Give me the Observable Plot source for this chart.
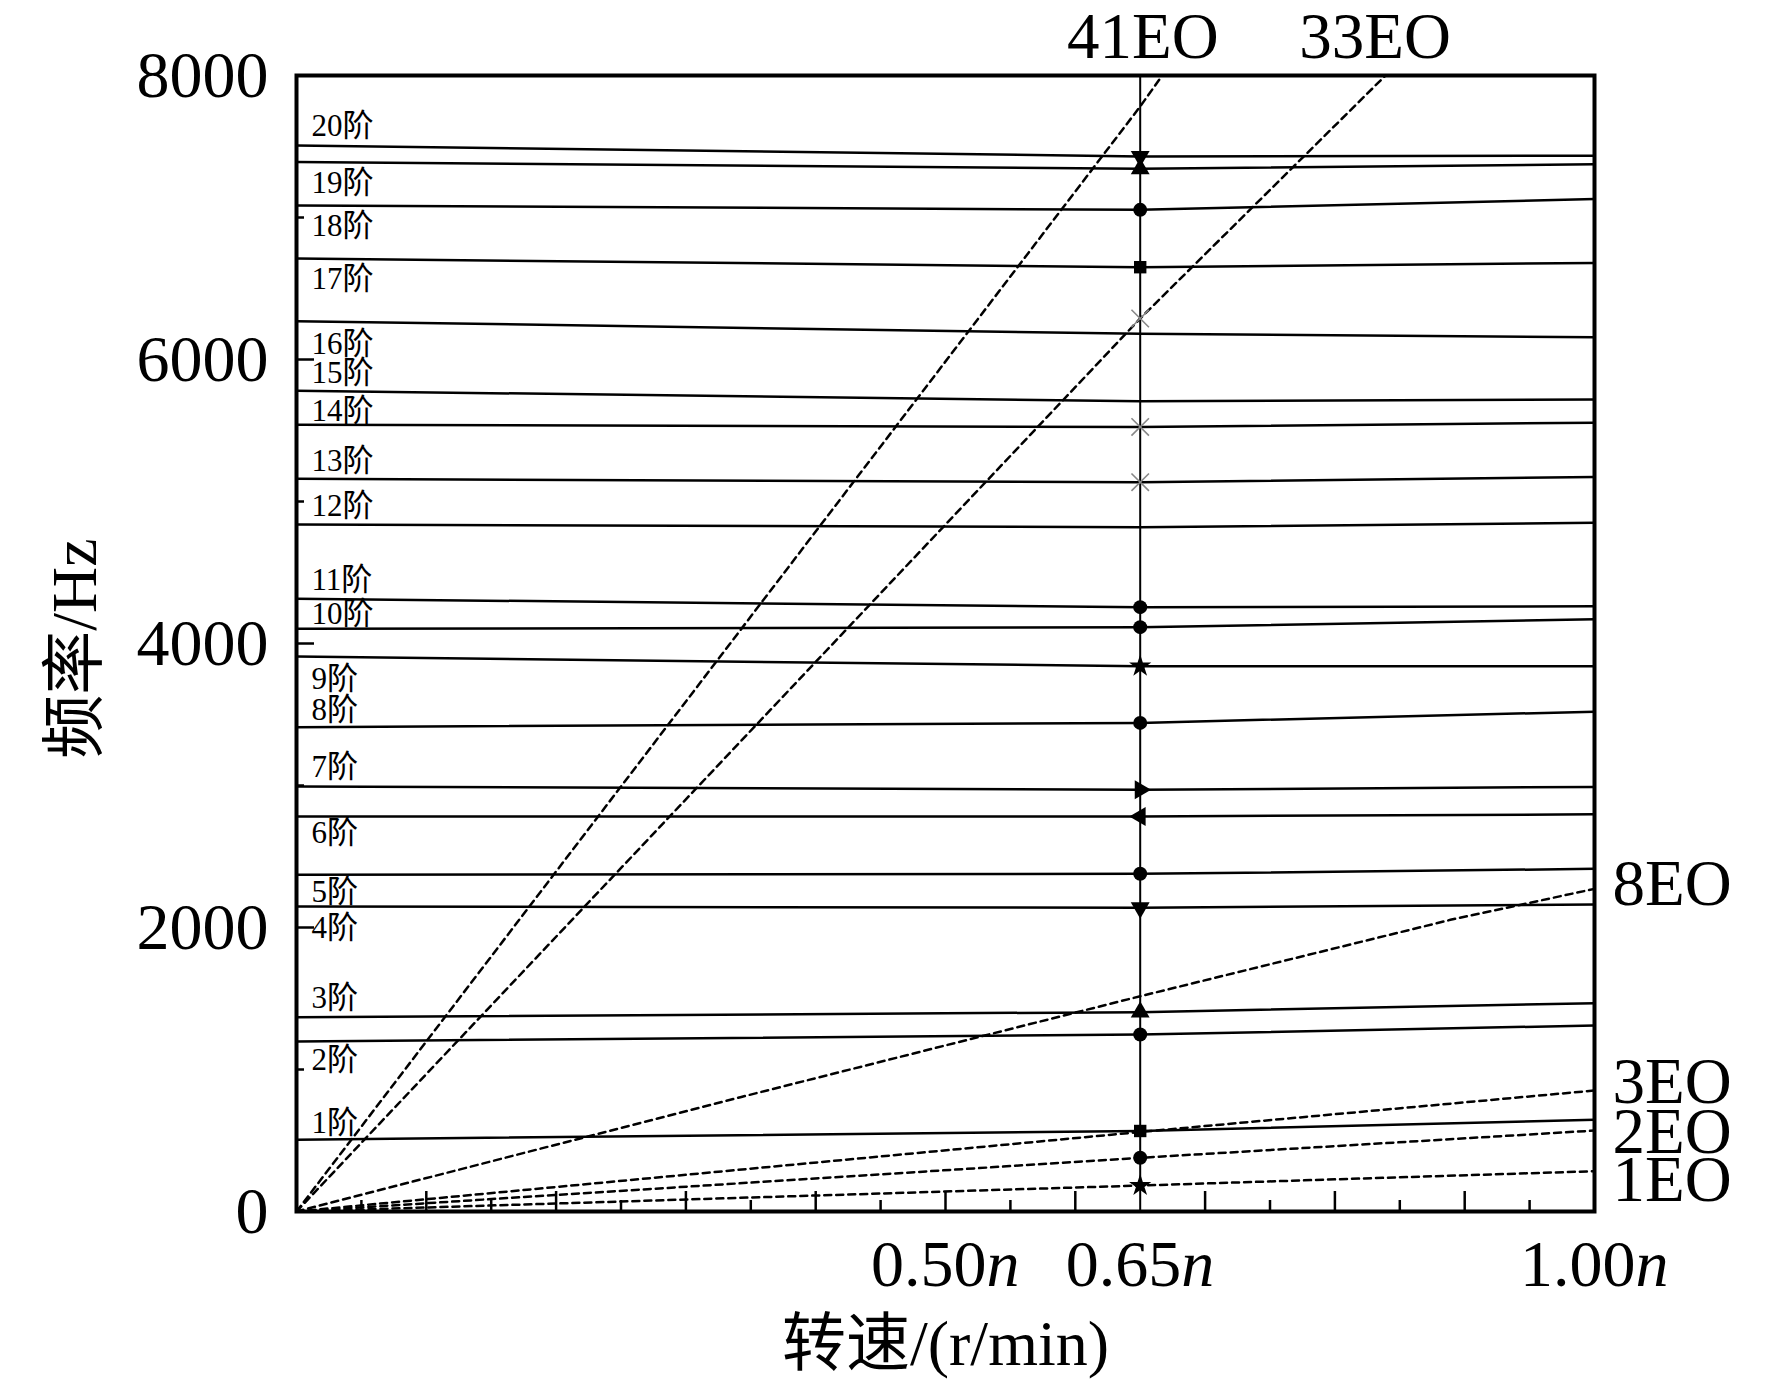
<!DOCTYPE html>
<html><head><meta charset="utf-8">
<script src="https://cdn.jsdelivr.net/npm/d3@7"></script>
<script src="https://cdn.jsdelivr.net/npm/@observablehq/plot@0.6"></script>
<style>body{margin:0;background:#fff} svg{display:block}</style>
</head><body><div id="chart"></div>
<script>
// ---- data ----
const modeNames = ["1阶","2阶","3阶","4阶","5阶","6阶","7阶","8阶","9阶","10阶","11阶","12阶","13阶","14阶","15阶","16阶","17阶","18阶","19阶","20阶"];
const modeSpeed = [0, 0.65, 1];
const modeFreqLeft  = [505, 1197, 1368, 2148, 2371, 2782, 2993, 3411, 3908, 4103, 4315, 4838, 5160, 5540, 5780, 6270, 6711, 7085, 7390, 7507];
const modeFreqMid   = [567, 1246, 1404, 2139, 2378, 2782, 2970, 3441, 3840, 4115, 4256, 4819, 5136, 5525, 5706, 6181, 6650, 7054, 7343, 7430];
const modeFreqRight = [646, 1310, 1467, 2162, 2413, 2797, 2990, 3520, 3840, 4170, 4262, 4850, 5172, 5555, 5718, 6157, 6680, 7130, 7375, 7435];
const modeLabelFreq = [556, 993, 1430, 1923, 2183, 2592, 3063, 3458, 3683, 4134, 4380, 4901, 5213, 5570, 5831, 6042, 6500, 6873, 7176, 7577];

const eoNames = ["1EO","2EO","3EO","8EO","33EO","41EO"];
const eoSpeed = [[0,0.65,1],[0,0.65,1],[0,0.65,1],[0,0.342,0.65,0.889,1],[0,0.65,0.839],[0,0.65,0.667]];
const eoFreq  = [[0,183,284],[0,378,570],[0,560,852],[0,805,1516,2054,2272],[0,6289,8000],[0,7782,8000]];

const topLabelNames = ["41EO","33EO"];
const topLabelSpeed = [0.652, 0.831];
const rightLabelNames = ["8EO","3EO","2EO","1EO"];
const rightLabelFreq = [2155, 761, 415, 77];

const speedMark = [0.65];
const markerFreq   = [7430, 7343, 7054, 6650, 4256, 4115, 3840, 3441, 2970, 2782, 2378, 2139, 1404, 1246, 567, 378, 183];
const markerSymbol = ["triangle","triangle","circle","square","circle","circle","star","circle","triangle","triangle","circle","triangle","triangle","circle","square","circle","star"];
const markerRotate = [180, 0, 0, 0, 0, 0, 0, 0, 90, -90, 0, 180, 0, 0, 0, 0, 0];
const crossFreq = [6289, 5525, 5136];

const yTicks = [0, 2000, 4000, 6000, 8000];
const yMinorTicks = [1000, 3000, 5000, 7000];
const xMajorTicks = [0.1, 0.2, 0.3, 0.4, 0.5, 0.6, 0.7, 0.8, 0.9];
const xMinorTicks = [0.05, 0.15, 0.25, 0.35, 0.45, 0.55, 0.75, 0.85, 0.95];
const xLabelTicks = [0.5, 0.65, 1.0];
const xLabelNums = ["0.50", "0.65", "1.00"];
const xTitle = "转速/(r/min)";
const yTitle = "频率/Hz";

// ---- tables ----
const modeCols = [modeFreqLeft, modeFreqMid, modeFreqRight];
const modeRows = modeNames.flatMap((m, i) => modeSpeed.map((s, j) => ({mode: m, speed: s, freq: modeCols[j][i]})));
const modeLabels = modeNames.map((m, i) => ({mode: m, freq: modeLabelFreq[i]}));
const eoRows = eoNames.flatMap((n, i) => eoSpeed[i].map((s, j) => ({eo: n, speed: s, freq: eoFreq[i][j]})));
const markerRows = markerFreq.map((f, i) => ({speed: speedMark[0], freq: f, symbol: markerSymbol[i], rotate: markerRotate[i]}));
const crossRows = crossFreq.map(f => ({speed: speedMark[0], freq: f}));
const topLabels = topLabelNames.map((n, i) => ({name: n, speed: topLabelSpeed[i]}));
const rightLabels = rightLabelNames.map((n, i) => ({name: n, freq: rightLabelFreq[i]}));

const serif = "'Liberation Serif', 'Times New Roman', 'Noto Sans CJK SC', serif";

const chart = Plot.plot({
  width: 1772,
  height: 1386,
  marginLeft: 296,
  marginRight: 178,
  marginTop: 75,
  marginBottom: 175,
  style: {fontFamily: serif, color: "black", background: "white"},
  x: {domain: [0, 1]},
  y: {domain: [0, 8000]},
  symbol: {type: "identity"},
  marks: [
    Plot.axisX({ticks: xMajorTicks, tickSize: -20, tickFormat: () => "", label: null, strokeWidth: 2.5}),
    Plot.axisX({ticks: xMinorTicks, tickSize: -11, tickFormat: () => "", label: null, strokeWidth: 2.5}),
    Plot.axisY({ticks: yTicks, tickSize: -18, tickFormat: () => "", label: null, strokeWidth: 2.5}),
    Plot.axisY({ticks: yMinorTicks, tickSize: -8, tickFormat: () => "", label: null, strokeWidth: 2.5}),
    Plot.line(eoRows, {x: "speed", y: "freq", z: "eo", stroke: "black", strokeWidth: 2.5, strokeDasharray: "7,5"}),
    Plot.line(modeRows, {x: "speed", y: "freq", z: "mode", stroke: "black", strokeWidth: 2.5}),
    Plot.ruleX(speedMark, {stroke: "black", strokeWidth: 2}),
    Plot.dot(markerRows, {x: "speed", y: "freq", symbol: "symbol", rotate: "rotate", r: 7, fill: "black", stroke: "none"}),
    Plot.dot(crossRows, {x: "speed", y: "freq", symbol: "times", r: 8, stroke: "#888", strokeWidth: 1.6, fill: "none"}),
    Plot.frame({stroke: "black", strokeWidth: 4}),
    Plot.text(modeLabels, {x: 0, y: "freq", text: "mode", textAnchor: "start", lineAnchor: "bottom", dx: 15, fontSize: 31, fill: "black"}),
    Plot.text(topLabels, {x: "speed", text: "name", frameAnchor: "top", lineAnchor: "bottom", dy: -18, textAnchor: "middle", fontSize: 65, fill: "black"}),
    Plot.text(rightLabels, {y: "freq", text: "name", frameAnchor: "right", lineAnchor: "bottom", dx: 18, textAnchor: "start", fontSize: 65, fill: "black"}),
    Plot.text(yTicks, {y: d => d, text: d => String(d), frameAnchor: "left", textAnchor: "end", lineAnchor: "middle", dx: -28, fontSize: 66, fill: "black"}),
    Plot.text(xLabelTicks, {x: d => d, text: (d, i) => xLabelNums[i], frameAnchor: "bottom", lineAnchor: "bottom", dy: 74, textAnchor: "end", dx: 41, fontSize: 66, fill: "black"}),
    Plot.text(xLabelTicks, {x: d => d, text: () => "n", frameAnchor: "bottom", lineAnchor: "bottom", dy: 74, textAnchor: "start", dx: 41, fontSize: 66, fontStyle: "italic", fill: "black"}),
    Plot.text([xTitle], {text: d => d, frameAnchor: "bottom", lineAnchor: "middle", dy: 133, textAnchor: "middle", fontSize: 64, fill: "black"}),
    Plot.text([yTitle], {text: d => d, frameAnchor: "left", lineAnchor: "middle", textAnchor: "middle", rotate: -90, dx: -221, dy: 5, fontSize: 64, fill: "black"})
  ]
});
document.getElementById("chart").appendChild(chart);
</script>
</body></html>
